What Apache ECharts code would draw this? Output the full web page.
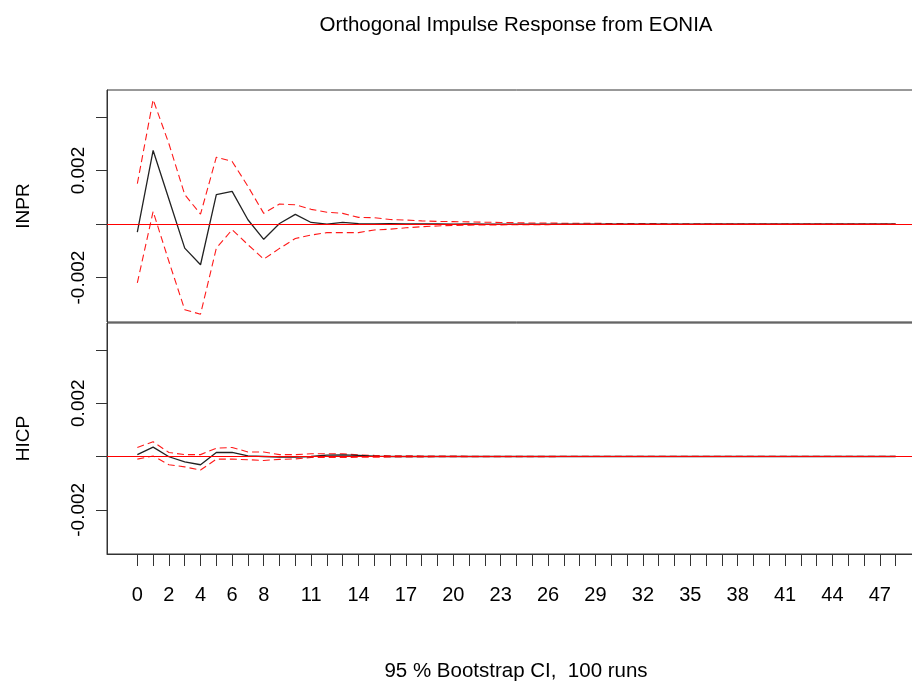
<!DOCTYPE html>
<html>
<head>
<meta charset="utf-8">
<title>Orthogonal Impulse Response from EONIA</title>
<script src="https://cdn.jsdelivr.net/npm/echarts@6/dist/echarts.min.js"></script>
<style>
  html, body { margin: 0; padding: 0; background: #fff; overflow: hidden; }
  /* the plotting frame runs past the right edge of the window, so the canvas is wider */
  #chart { width: 940px; height: 684px; }
</style>
</head>
<body>
<div id="chart"></div>
<script>
// Forecast horizons (steps ahead)
const horizon = [0, 1, 2, 3, 4, 5, 6, 7, 8, 9, 10, 11, 12, 13, 14, 15, 16, 17, 18, 19, 20,
  21, 22, 23, 24, 25, 26, 27, 28, 29, 30, 31, 32, 33, 34, 35, 36, 37, 38, 39, 40,
  41, 42, 43, 44, 45, 46, 47, 48];
const xTickLabels = [0, 2, 4, 6, 8, 11, 14, 17, 20, 23, 26, 29, 32, 35, 38, 41, 44, 47];
const yTicks = [-0.002, 0, 0.002, 0.004];
const yTickLabels = [-0.002, 0.002];

// INPR response to an EONIA shock
const inprIrf = [-0.0003, 0.00275, 0.00093, -0.0009, -0.00152, 0.0011, 0.00122, 0.00016, -0.00057, 0.00002,
  0.00036, 0.00006, 0.0, 0.00006, 0.00002, 0.00001, 0.00002, 0.00001, 0.00001, 0.00001,
  0.0, 0.00001, 0.0, 0.0, 0.0, 0.0, 0.0, 0.0, 0.0, 0.0,
  0.0, 0.0, 0.0, 0.0, 0.0, 0.0, 0.0, 0.0, 0.0, 0.0,
  0.0, 0.0, 0.0, 0.0, 0.0, 0.0, 0.0, 0.0, 0.0];
const inprUpper = [0.00151, 0.00465, 0.0030, 0.0011, 0.00037, 0.0025, 0.00234, 0.00141, 0.0004, 0.00075,
  0.00072, 0.00055, 0.00044, 0.0004, 0.00025, 0.00024, 0.00017, 0.00015, 0.00012, 0.0001,
  0.00009, 0.00008, 0.00007, 0.00006, 0.00005, 0.00004, 0.00004, 0.00003, 0.00003, 0.00003,
  0.00002, 0.00002, 0.00002, 0.00002, 0.00001, 0.00001, 0.00001, 0.00001, 0.00001, 0.00001,
  0.00001, 0.00001, 0.00001, 0.00001, 0.00001, 0.00001, 0.00001, 0.00001, 0.00001];
const inprLower = [-0.0022, 0.00047, -0.0014, -0.0032, -0.00337, -0.0009, -0.00021, -0.00077, -0.00131, -0.00091,
  -0.00054, -0.00041, -0.00032, -0.00032, -0.00032, -0.00022, -0.00019, -0.00014, -0.0001, -0.00007,
  -0.00005, -0.00004, -0.00003, -0.00003, -0.00002, -0.00002, -0.00002, -0.00001, -0.00001, -0.00001,
  -0.00001, -0.00001, -0.00001, -0.00001, -0.00001, -0.00001, 0.0, 0.0, 0.0, 0.0,
  0.0, 0.0, 0.0, 0.0, 0.0, 0.0, 0.0, 0.0, 0.0];

// HICP response to an EONIA shock
const hicpIrf = [0.00007, 0.00035, -0.00001, -0.0002, -0.00031, 0.00015, 0.00015, 0.00002, 0.0, -0.00002,
  -0.00002, 0.0, 0.00005, 0.00006, 0.00004, 0.00001, 0.0, 0.0, 0.0, 0.0,
  0.0, 0.0, 0.0, 0.0, 0.0, 0.0, 0.0, 0.0, 0.0, 0.0,
  0.0, 0.0, 0.0, 0.0, 0.0, 0.0, 0.0, 0.0, 0.0, 0.0,
  0.0, 0.0, 0.0, 0.0, 0.0, 0.0, 0.0, 0.0, 0.0];
const hicpUpper = [0.00034, 0.00055, 0.00015, 0.00007, 0.00007, 0.00031, 0.00034, 0.00017, 0.00017, 0.00007,
  0.00007, 0.0001, 0.0001, 0.0001, 0.00006, 0.00004, 0.00003, 0.00003, 0.00002, 0.00002,
  0.00002, 0.00001, 0.00001, 0.00001, 0.00001, 0.00001, 0.00001, 0.00001, 0.00001, 0.00001,
  0.00001, 0.00001, 0.00001, 0.00001, 0.00001, 0.00001, 0.00001, 0.00001, 0.00001, 0.00001,
  0.00001, 0.00001, 0.00001, 0.00001, 0.00001, 0.00001, 0.00001, 0.00001, 0.00001];
const hicpLower = [-0.0001, 0.00002, -0.00031, -0.00039, -0.00051, -0.0001, -0.0001, -0.00012, -0.00015, -0.00011,
  -0.00009, -0.00004, -0.00004, -0.00004, -0.00003, -0.00003, -0.00002, -0.00002, -0.00002, -0.00001,
  -0.00001, -0.00001, -0.00001, -0.00001, -0.00001, -0.00001, -0.00001, 0.0, 0.0, 0.0,
  0.0, 0.0, 0.0, 0.0, 0.0, 0.0, 0.0, 0.0, 0.0, 0.0,
  0.0, 0.0, 0.0, 0.0, 0.0, 0.0, 0.0, 0.0, 0.0];

const FONT = '"Liberation Sans", Arial, sans-serif';
const AXIS_COLOR = '#333';
const Y_MIN = -0.00366, Y_MAX = 0.00501;
const X_MIN = -1.92, X_MAX = 49.92;

const pairs = arr => horizon.map((h, i) => [h, arr[i]]);

function panelY(idx, name) {
  return {
    gridIndex: idx, type: 'value', min: Y_MIN, max: Y_MAX,
    name: name, nameLocation: 'middle', nameRotate: 90, nameGap: 74,
    nameTextStyle: { fontFamily: FONT, fontSize: 19, color: '#000' },
    axisLine: { show: true, onZero: false, lineStyle: { color: AXIS_COLOR, width: 1 } },
    axisTick: { show: true, length: 11, customValues: yTicks, lineStyle: { color: AXIS_COLOR } },
    axisLabel: {
      customValues: yTickLabels, rotate: 90, margin: 19,
      fontFamily: FONT, fontSize: 19, color: '#000',
      formatter: v => v.toFixed(3)
    },
    splitLine: { show: false }
  };
}

function panelSeries(idx, irf, upper, lower) {
  const dashed = { color: '#ff1a1a', width: 1.1, type: [7, 4] };
  return [
    {
      type: 'line', xAxisIndex: idx, yAxisIndex: idx, data: pairs(irf),
      showSymbol: false, silent: true,
      lineStyle: { color: '#222', width: 1.3 }, z: 3,
      markLine: {
        silent: true, symbol: 'none', label: { show: false },
        lineStyle: { color: '#ff0000', type: 'solid', width: 1 },
        data: [{ yAxis: 0 }]
      }
    },
    {
      type: 'line', xAxisIndex: idx, yAxisIndex: idx, data: pairs(upper),
      showSymbol: false, silent: true, lineStyle: dashed, z: 2
    },
    {
      type: 'line', xAxisIndex: idx, yAxisIndex: idx, data: pairs(lower),
      showSymbol: false, silent: true, lineStyle: dashed, z: 2
    }
  ];
}

const chart = echarts.init(document.getElementById('chart'), null, { renderer: 'canvas' });
chart.setOption({
  animation: false,
  backgroundColor: '#fff',
  grid: [
    { left: 107, top: 90, right: 14, height: 232, show: true, borderColor: AXIS_COLOR, borderWidth: 1 },
    { left: 107, top: 323, right: 14, height: 231, show: true, borderColor: AXIS_COLOR, borderWidth: 1 }
  ],
  xAxis: [
    { gridIndex: 0, type: 'value', min: X_MIN, max: X_MAX, show: false },
    {
      gridIndex: 1, type: 'value', min: X_MIN, max: X_MAX,
      axisLine: { show: true, onZero: false, lineStyle: { color: AXIS_COLOR } },
      axisTick: { show: true, length: 12, customValues: horizon, lineStyle: { color: AXIS_COLOR } },
      axisLabel: { customValues: xTickLabels, margin: 31, fontFamily: FONT, fontSize: 20, color: '#000' },
      splitLine: { show: false }
    }
  ],
  yAxis: [panelY(0, 'INPR'), panelY(1, 'HICP')],
  series: [
    ...panelSeries(0, inprIrf, inprUpper, inprLower),
    ...panelSeries(1, hicpIrf, hicpUpper, hicpLower)
  ],
  graphic: [
    {
      type: 'text', x: 516, y: 15,
      style: { text: 'Orthogonal Impulse Response from EONIA', textAlign: 'center',
        font: '20.5px ' + FONT, fill: '#000' }
    },
    {
      type: 'text', x: 516, y: 661,
      style: { text: '95 % Bootstrap CI,  100 runs', textAlign: 'center',
        font: '20.5px ' + FONT, fill: '#000' }
    }
  ]
});
</script>
</body>
</html>
